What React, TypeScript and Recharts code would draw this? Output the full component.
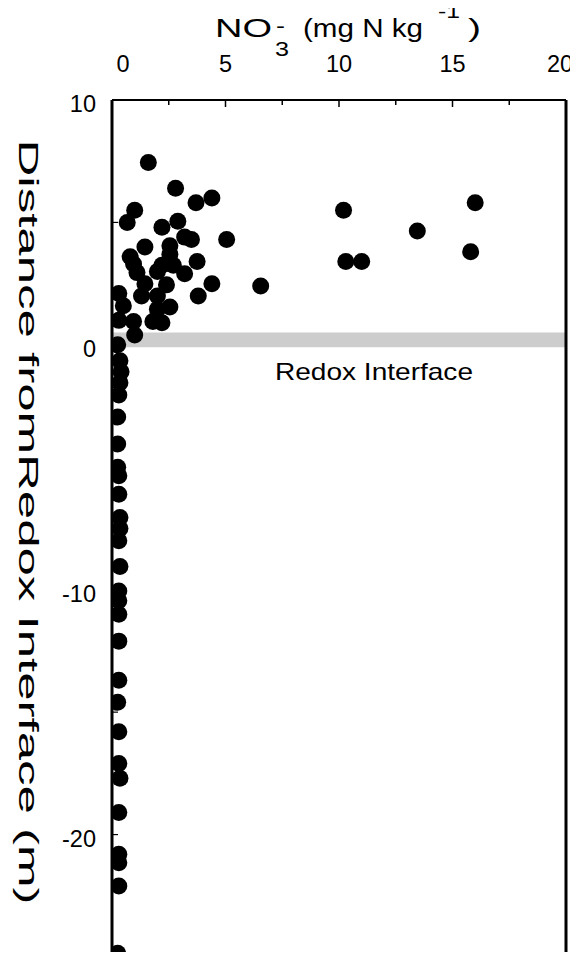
import React from "react";
import {
  ScatterChart,
  Scatter,
  XAxis,
  YAxis,
  ReferenceArea,
  ReferenceLine,
} from "recharts";

// NO3- (mg N/kg) and distance from redox interface (m), points above the interface
const aboveNO3 = [
  1.6, 2.8, 3.7, 4.4, 1.0, 0.67, 2.9, 2.2, 3.2, 3.5, 5.05, 1.45, 2.55, 0.8, 2.55,
  3.75, 0.95, 2.2, 2.7, 1.1, 2.0, 3.2, 1.45, 2.4, 4.4, 6.55, 0.3, 1.3, 3.8, 0.5,
  2.0, 2.55, 2.0, 0.3, 0.95, 1.8, 2.2, 1.0, 10.2, 16.0, 13.45, 15.8, 10.3, 11.0,
];
const aboveDist = [
  7.45, 6.4, 5.8, 6.0, 5.5, 5.0, 5.05, 4.8, 4.4, 4.3, 4.3, 4.0, 4.05, 3.6, 3.7,
  3.4, 3.3, 3.25, 3.25, 2.95, 3.0, 2.9, 2.5, 2.45, 2.5, 2.4, 2.1, 2.0, 2.0, 1.6,
  2.0, 1.55, 1.45, 1.0, 0.95, 0.95, 0.9, 0.4, 5.5, 5.8, 4.65, 3.8, 3.4, 3.4,
];

// points below the interface, hugging the zero line
const belowNO3 = [
  0.25, 0.35, 0.4, 0.35, 0.3, 0.25, 0.25, 0.25, 0.3, 0.3, 0.35, 0.35, 0.3, 0.35,
  0.3, 0.3, 0.3, 0.3, 0.3, 0.25, 0.3, 0.3, 0.35, 0.3, 0.3, 0.3, 0.3, 0.25,
];
const belowDist = [
  0.0, -0.65, -1.1, -1.55, -2.05, -2.95, -4.05, -5.0, -5.35, -6.1, -7.05, -7.5,
  -8.0, -9.05, -10.05, -10.45, -11.0, -12.1, -13.7, -14.6, -15.8, -17.1, -17.7,
  -19.1, -20.8, -21.15, -22.1, -24.85,
];

const xTicks = [0, 2.5, 5, 7.5, 10, 12.5, 15, 17.5, 20];
const yTicks = [10, 5, 0, -5, -10, -15, -20, -25];
const yLabelled = [10, 0, -10, -20];

const W = 578;
const H = 960;
const PLOT_LEFT = 112;
const PLOT_TOP = 100;
const PLOT_RIGHT = 566;
const PLOT_BOTTOM = 957;
const FONT = "'Liberation Sans', Arial, sans-serif";

const points = [
  ...aboveNO3.map((x, i) => ({ x, y: aboveDist[i] })),
  ...belowNO3.map((x, i) => ({ x, y: belowDist[i] })),
];

const txt = (size: number) => ({ fontSize: size, fontFamily: FONT, fill: "#000" });

const XTick = (p: any) => {
  const v = p.payload.value;
  const major = v % 5 === 0;
  return (
    <g>
      <line x1={p.x} x2={p.x} y1={PLOT_TOP} y2={PLOT_TOP + (major ? 7 : 5)} stroke="#000" strokeWidth={1.5} />
      {major && (
        <text x={p.x + (v === 0 ? 11 : v === 20 ? -6 : 0)} y={PLOT_TOP - 28} textAnchor="middle" style={txt(23.5)}>
          {v}
        </text>
      )}
    </g>
  );
};

const YTick = (p: any) => {
  const v = p.payload.value;
  return (
    <g>
      <line x1={PLOT_LEFT} x2={PLOT_LEFT + 6} y1={p.y} y2={p.y} stroke="#000" strokeWidth={1.2} />
      {yLabelled.includes(v) && (
        <text x={PLOT_LEFT - 16} y={p.y + 12} textAnchor="end" style={txt(23.5)}>
          {v}
        </text>
      )}
    </g>
  );
};

const XTitle = () => (
  <g>
    <text x={215} y={37} style={txt(25)} textLength={57} lengthAdjust="spacingAndGlyphs">NO</text>
    <text x={275} y={56} style={txt(20)} textLength={14} lengthAdjust="spacingAndGlyphs">3</text>
    <text x={276} y={33} style={txt(20)} textLength={9} lengthAdjust="spacingAndGlyphs">-</text>
    <text x={303} y={37} style={txt(25)} textLength={120} lengthAdjust="spacingAndGlyphs">(mg N kg</text>
    <text x={438} y={18} style={txt(18)} textLength={22} lengthAdjust="spacingAndGlyphs">-1</text>
    <text x={468} y={37} style={txt(25)} textLength={13} lengthAdjust="spacingAndGlyphs">)</text>
  </g>
);

const YTitle = () => (
  <text
    x={19}
    y={522}
    transform="rotate(90, 19, 522)"
    textAnchor="middle"
    style={txt(27)}
    textLength={765}
    lengthAdjust="spacingAndGlyphs"
  >
    Distance fromRedox Interface (m)
  </text>
);

const RedoxLabel = () => (
  <text x={275} y={380} style={txt(24)} textLength={198} lengthAdjust="spacingAndGlyphs">
    Redox Interface
  </text>
);

const Dot = (p: any) => <circle cx={p.cx} cy={p.cy} r={8.5} fill="#000" />;

export default function App() {
  return (
    <div style={{ margin: -8, width: W, height: H, background: "#fff" }}>
      <ScatterChart
        width={W}
        height={H}
        margin={{ top: PLOT_TOP - 40, left: PLOT_LEFT - 60, right: W - PLOT_RIGHT, bottom: H - PLOT_BOTTOM }}
      >
        <XAxis
          type="number"
          dataKey="x"
          orientation="top"
          domain={[0, 20]}
          ticks={xTicks}
          height={40}
          axisLine={{ stroke: "#000", strokeWidth: 2 }}
          tickLine={false}
          tick={XTick}
          interval={0}
          allowDataOverflow
          label={{ content: XTitle }}
        />
        <YAxis
          type="number"
          dataKey="y"
          domain={[-25, 10]}
          ticks={yTicks}
          width={60}
          axisLine={{ stroke: "#000", strokeWidth: 3 }}
          tickLine={false}
          tick={YTick}
          interval={0}
          allowDataOverflow
          label={{ content: YTitle }}
        />
        <ReferenceArea x1={0} x2={20} y1={-0.1} y2={0.5} fill="#cdcdcd" fillOpacity={1} stroke="none" label={{ content: RedoxLabel }} />
        <ReferenceLine x={20} stroke="#000" strokeWidth={3} />
        <ReferenceLine y={-25} stroke="#000" strokeWidth={2} />
        <Scatter data={points} shape={Dot} isAnimationActive={false} />
      </ScatterChart>
    </div>
  );
}
